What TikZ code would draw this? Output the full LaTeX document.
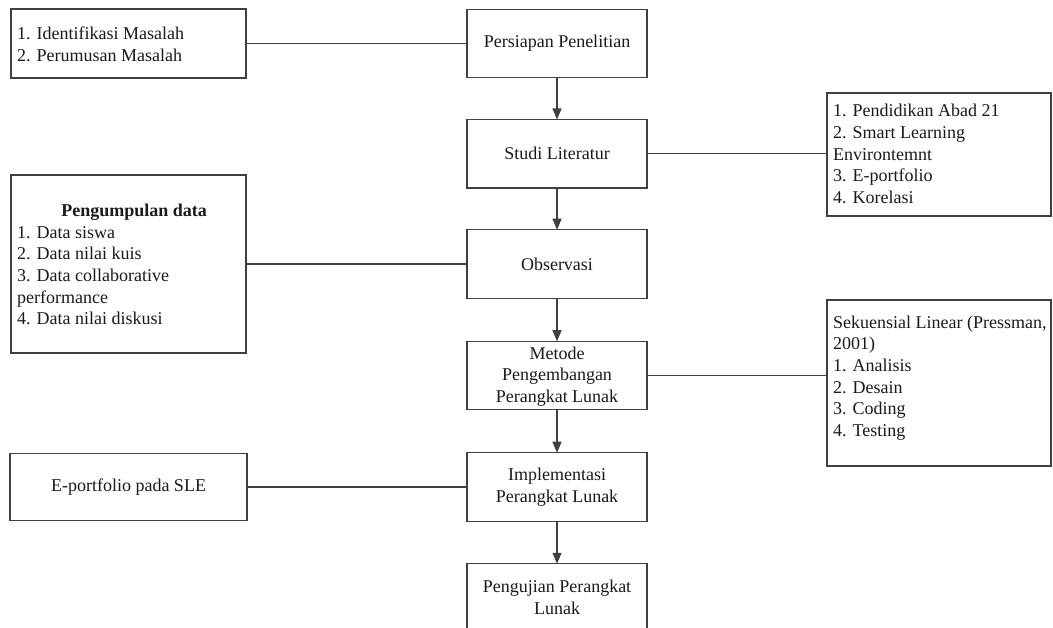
\documentclass[tikz,border=0pt]{standalone}
\usepackage{fontspec}
\setmainfont{Liberation Serif}
\usetikzlibrary{arrows.meta}
\definecolor{ln}{HTML}{404040}
\definecolor{tx}{HTML}{1A1A1A}
\tikzset{
  box/.style={draw=ln, line width=1.3pt, rectangle, inner sep=0pt, outer sep=0pt, fill=white},
  cbox/.style={box, minimum width=180pt, minimum height=68.5pt},
  ctext/.style={text=tx, align=center, inner sep=0pt, font=\fontsize{18}{21.7}\selectfont},
  ltext/.style={text=tx, align=left, inner sep=0pt, anchor=west, font=\fontsize{18}{21.7}\selectfont},
  link/.style={draw=ln, line width=1.3pt},
  flow/.style={link, -{Triangle[length=11pt,width=9pt]}},
}
\begin{document}
\begin{tikzpicture}[x=1pt,y=-1pt]
\useasboundingbox (0,0) rectangle (1053,628);
\clip (0,0) rectangle (1053,628);
\fill[white] (0,0) rectangle (1053,628);

% central column
\node[cbox] (P) at (557,43.5) {};
\node[ctext] (Pt) at (P.center) {Persiapan Penelitian};
\node[cbox] (S) at (557,153.75) {};
\node[ctext] (St) at (S.center) {Studi Literatur};
\node[cbox] (O) at (557,264) {};
\node[ctext] (Ot) at (O.center) {Observasi};
\node[cbox] (M) at (557,375.5) {};
\node[ctext] (Mt) at (557,376.5) {Metode\\Pengembangan\\Perangkat Lunak};
\node[cbox] (I) at (557,487) {};
\node[ctext] (It) at (I.center) {Implementasi\\Perangkat Lunak};
\node[cbox] (U) at (557,598) {};
\node[ctext] (Ut) at (557,597.5) {Pengujian Perangkat\\Lunak};

% left boxes
\node[box, minimum width=235pt, minimum height=69pt] (A) at (128.5,43.5) {};
\node[ltext] (At) at (17,44) {1. Identifikasi Masalah\\2. Perumusan Masalah};
\node[box, minimum width=235pt, minimum height=178pt] (D) at (128.5,264) {};
\node[ltext] (Dt) at (17,264.5) {\hspace*{2pt}\makebox[230pt][c]{\bfseries Pengumpulan data}\\1. Data siswa\\2. Data nilai kuis\\3. Data collaborative\\performance\\4. Data nilai diskusi};
\node[box, minimum width=237pt, minimum height=67pt] (E) at (128.5,487) {};
\node[ctext] (Et) at (E.center) {E-portfolio pada SLE};

% right boxes
\node[box, minimum width=224pt, minimum height=123pt] (R1) at (939,154.5) {};
\node[ltext] (R1t) at (833,154) {1. Pendidikan Abad 21\\2. Smart Learning\\Environtemnt\\3. E-portfolio\\4. Korelasi};
\node[box, minimum width=224pt, minimum height=166pt] (R2) at (939,383) {};
\node[ltext] (R2t) at (833,378) {Sekuensial Linear (Pressman,\\2001)\\1. Analisis\\2. Desain\\3. Coding\\4. Testing};

% connectors
\draw[link] (A.east) -- (P.west);
\draw[link] (S.east) -- (S.east -| R1.west);
\draw[link] (O.west) -- (D.east);
\draw[link] (M.east) -- (M.east -| R2.west);
\draw[link] (E.east) -- (I.west);
\draw[flow] (P.south) -- (S.north);
\draw[flow] (S.south) -- (O.north);
\draw[flow] (O.south) -- (M.north);
\draw[flow] (M.south) -- (I.north);
\draw[flow] (I.south) -- (U.north);
\end{tikzpicture}
\end{document}
